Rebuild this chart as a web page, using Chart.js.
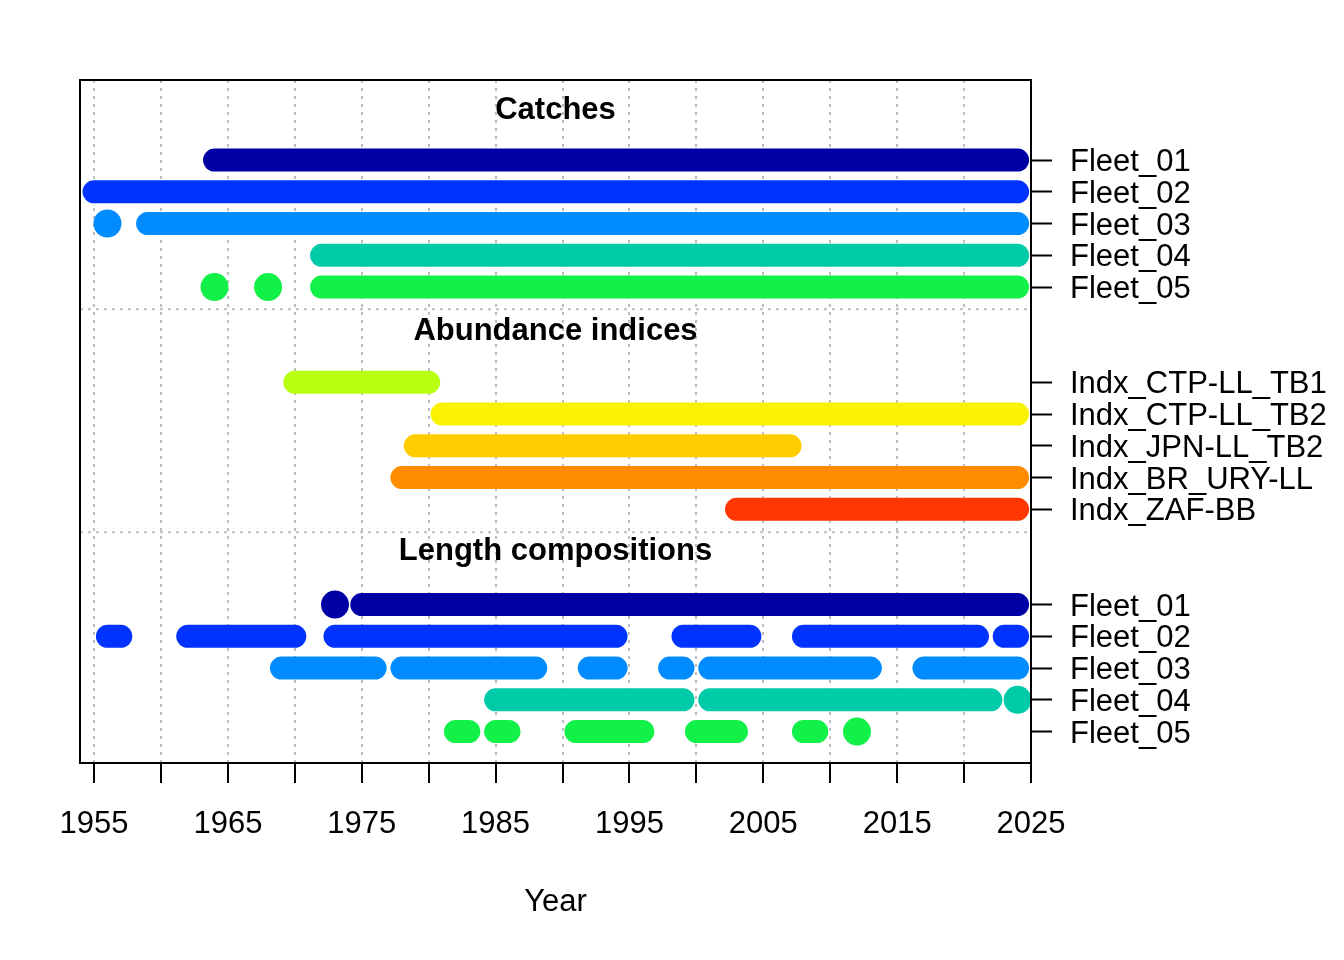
<!DOCTYPE html>
<html>
<head>
<meta charset="utf-8">
<script src="https://cdn.jsdelivr.net/npm/chart.js@4"></script>
<style>
  html, body { margin: 0; padding: 0; background: #ffffff; }
  #wrap { width: 1344px; height: 960px; position: relative; }
</style>
</head>
<body>
<div id="wrap"><canvas id="c"></canvas></div>
<script>
// ---------- DATA ----------
const xTickYears  = [1955, 1960, 1965, 1970, 1975, 1980, 1985, 1990, 1995, 2000, 2005, 2010, 2015, 2020, 2025];
const xTickLabels = ['1955', '', '1965', '', '1975', '', '1985', '', '1995', '', '2005', '', '2015', '', '2025'];

const catchFleets = ['Fleet_01', 'Fleet_02', 'Fleet_03', 'Fleet_04', 'Fleet_05'];
const catchRows   = [1, 2, 3, 4, 5];
const catchSpans  = [
  [[1964, 2024]],
  [[1955, 2024]],
  [[1956, 1956], [1959, 2024]],
  [[1972, 2024]],
  [[1964, 1964], [1968, 1968], [1972, 2024]]
];

const indexNames = ['Indx_CTP-LL_TB1', 'Indx_CTP-LL_TB2', 'Indx_JPN-LL_TB2', 'Indx_BR_URY-LL', 'Indx_ZAF-BB'];
const indexRows  = [8, 9, 10, 11, 12];
const indexSpans = [
  [[1970, 1980]],
  [[1981, 2024]],
  [[1979, 2007]],
  [[1978, 2024]],
  [[2003, 2024]]
];

const lengthFleets = ['Fleet_01', 'Fleet_02', 'Fleet_03', 'Fleet_04', 'Fleet_05'];
const lengthRows   = [15, 16, 17, 18, 19];
const lengthSpans  = [
  [[1973, 1973], [1975, 2024]],
  [[1956, 1957], [1962, 1970], [1973, 1994], [1999, 2004], [2008, 2021], [2023, 2024]],
  [[1969, 1976], [1978, 1988], [1992, 1994], [1998, 1999], [2001, 2013], [2017, 2024]],
  [[1985, 1999], [2001, 2022], [2024, 2024]],
  [[1982, 1983], [1985, 1986], [1991, 1996], [2000, 2003], [2008, 2009], [2012, 2012]]
];

const fleetColors = ['#0000A5', '#0033FF', '#008BFF', '#00CBA8', '#12F148'];
const indexColors = ['#B9FF12', '#F9F200', '#FFCC00', '#FF8C00', '#FF3600'];

const sectionTitles    = ['Catches', 'Abundance indices', 'Length compositions'];
const sectionTitleRows = [-0.65, 6.32, 13.24];
const separatorRows    = [5.70, 12.72];

const xMin = 1953.95, xMax = 2025.0;
const yMin = -1.52,  yMax = 19.99;

// ---------- BUILD ----------
const FONT = '"Liberation Sans", Arial, Helvetica, sans-serif';
Chart.defaults.font.family = FONT;
Chart.defaults.font.size = 31;
Chart.defaults.color = '#000000';

const datasets = [];
function addGroup(rows, spans, colors) {
  rows.forEach((row, i) => {
    spans[i].forEach(([a, b]) => {
      if (a === b) {
        datasets.push({
          data: [{x: a, y: row}],
          showLine: false,
          pointRadius: 14,
          pointBorderWidth: 0,
          pointBackgroundColor: colors[i],
          pointBorderColor: colors[i],
          clip: false
        });
      } else {
        datasets.push({
          data: [{x: a, y: row}, {x: b, y: row}],
          borderColor: colors[i],
          borderWidth: 23,
          borderCapStyle: 'round',
          pointRadius: 0,
          fill: false,
          tension: 0,
          clip: false
        });
      }
    });
  });
}
addGroup(catchRows, catchSpans, fleetColors);
addGroup(indexRows, indexSpans, indexColors);
addGroup(lengthRows, lengthSpans, fleetColors);

separatorRows.forEach(r => {
  datasets.push({
    data: [{x: xMin, y: r}, {x: xMax, y: r}],
    borderColor: '#BEBEBE',
    borderWidth: 2,
    borderDash: [3, 5],
    pointRadius: 0,
    fill: false
  });
});

const yTickRows   = catchRows.concat(indexRows, lengthRows);
const yTickLabels = catchFleets.concat(indexNames, lengthFleets);

const decorPlugin = {
  id: 'decor',
  afterDatasetsDraw(chart) {
    const {ctx, chartArea, scales} = chart;
    ctx.save();
    ctx.fillStyle = '#000000';
    ctx.font = 'bold 31px ' + FONT;
    ctx.textAlign = 'center';
    ctx.textBaseline = 'alphabetic';
    const cx = (chartArea.left + chartArea.right) / 2;
    sectionTitles.forEach((t, i) => {
      ctx.fillText(t, cx, scales.y.getPixelForValue(sectionTitleRows[i]) + 11);
    });
    ctx.restore();
  },
  afterDraw(chart) {
    const {ctx, chartArea} = chart;
    ctx.save();
    ctx.strokeStyle = '#000000';
    ctx.lineWidth = 2;
    ctx.strokeRect(chartArea.left, chartArea.top, chartArea.right - chartArea.left, chartArea.bottom - chartArea.top);
    ctx.restore();
  }
};

// nudge right-axis label text down slightly to match the reference baseline
function patchLabels(scale) {
  if (scale._patched) return;
  scale._patched = true;
  const orig = scale.drawLabels;
  scale.drawLabels = function (area) {
    this.ctx.save();
    this.ctx.translate(0, 2.5);
    orig.call(this, area);
    this.ctx.restore();
  };
}

new Chart(document.getElementById('c'), {
  type: 'line',
  data: { datasets },
  plugins: [decorPlugin],
  options: {
    responsive: true,
    maintainAspectRatio: false,
    animation: false,
    events: [],
    layout: { padding: { left: 80, top: 80, right: 0, bottom: 0 } },
    plugins: { legend: { display: false }, tooltip: { enabled: false }, title: { display: false } },
    scales: {
      x: {
        type: 'linear',
        position: 'bottom',
        min: xMin,
        max: xMax,
        afterBuildTicks: (scale) => { scale.ticks = xTickYears.map(v => ({value: v})); },
        afterFit: (scale) => { scale.height = 197; },
        ticks: {
          autoSkip: false,
          maxRotation: 0,
          padding: 23,
          color: '#000000',
          font: { size: 31 },
          callback: (v, i) => xTickLabels[i]
        },
        grid: {
          display: true,
          drawOnChartArea: true,
          drawTicks: true,
          color: '#BEBEBE',
          lineWidth: 2,
          tickLength: 20,
          tickColor: '#000000',
          tickWidth: 2,
          tickBorderDash: []
        },
        border: { display: true, color: '#000000', width: 2, dash: [3, 5] },
        title: {
          display: true,
          text: 'Year',
          color: '#000000',
          font: { size: 31 },
          padding: { top: 0, bottom: 39 }
        }
      },
      y: {
        type: 'linear',
        position: 'right',
        reverse: true,
        min: yMin,
        max: yMax,
        afterBuildTicks: (scale) => { scale.ticks = yTickRows.map(v => ({value: v})); },
        afterFit: (scale) => { scale.width = 313; },
        afterUpdate: patchLabels,
        ticks: {
          autoSkip: false,
          padding: 18,
          color: '#000000',
          font: { size: 31 },
          callback: (v, i) => yTickLabels[i]
        },
        grid: {
          display: true,
          drawOnChartArea: false,
          drawTicks: true,
          tickLength: 21,
          tickColor: '#000000',
          tickWidth: 2,
          tickBorderDash: []
        },
        border: { display: true, color: '#000000', width: 2 }
      }
    }
  }
});
</script>
</body>
</html>
